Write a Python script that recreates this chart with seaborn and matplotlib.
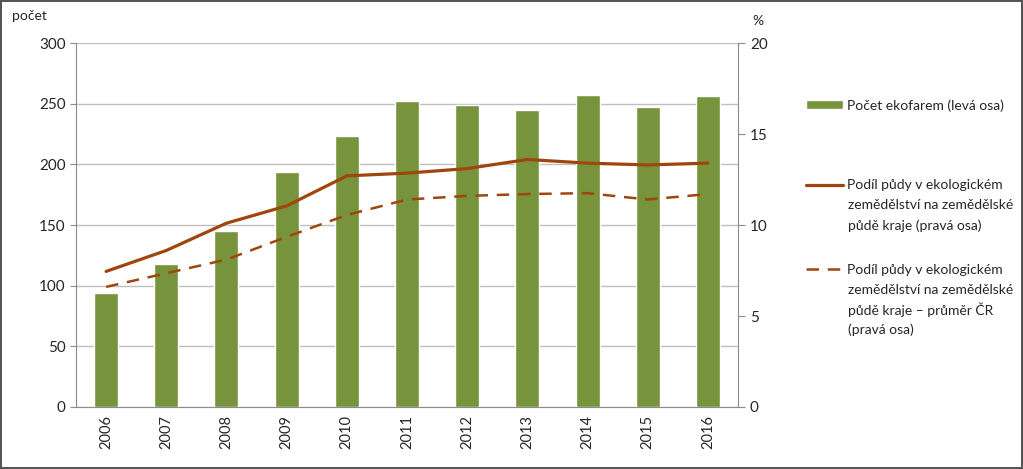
import numpy as np
import pandas as pd
import matplotlib
matplotlib.use("Agg")
import matplotlib.pyplot as plt
import seaborn as sns
from matplotlib.patches import Patch
from matplotlib.lines import Line2D

years = ["2006", "2007", "2008", "2009", "2010", "2011", "2012", "2013", "2014", "2015", "2016"]
farms = [94, 118, 145, 194, 223, 252, 249, 245, 257, 247, 256]
share_region = [7.45, 8.6, 10.1, 11.05, 12.7, 12.85, 13.1, 13.6, 13.4, 13.3, 13.4]
share_cr = [6.6, 7.35, 8.1, 9.35, 10.55, 11.4, 11.6, 11.7, 11.75, 11.4, 11.7]

lbl_bars = "Počet ekofarem (levá osa)"
lbl_region = ["Podíl půdy v ekologickém", "zemědělství na zemědělské", "půdě kraje (pravá osa)"]
lbl_cr = ["Podíl půdy v ekologickém", "zemědělství na zemědělské", "půdě kraje – průměr ČR", "(pravá osa)"]

GREEN = "#77933C"
BROWN = "#A0460C"
GRID = "#BFBFBF"
TXT = "#262626"
DASH = (0, (5, 3.5))

sns.set_style("white")
plt.rcParams["font.family"] = ["Lato", "DejaVu Sans"]

df = pd.DataFrame({"pos": np.arange(len(years)), "year": years, "farms": farms,
                   "region": share_region, "cr": share_cr})

fig = plt.figure(figsize=(10.23, 4.69), dpi=100)
fig.patch.set_edgecolor("#555555")
fig.patch.set_linewidth(1.5)
ax = fig.add_axes([0.0743, 0.1322, 0.6471, 0.7761])

sns.barplot(data=df, x="year", y="farms", color=GREEN, saturation=1, width=0.4, ax=ax)
ax.set_xlim(-0.5, len(years) - 0.5)
ax.set_ylim(0, 300)
ax.set_yticks(np.arange(0, 301, 50))
ax.set_axisbelow(True)
ax.yaxis.grid(True, color=GRID, linewidth=1)
ax.set_xlabel("")
ax.set_ylabel("")
for s in ["top", "right"]:
    ax.spines[s].set_visible(False)
for s in ["left", "bottom"]:
    ax.spines[s].set_color("#8C8C8C")
ax.set_xticks(np.arange(len(years)))
ax.set_xticklabels(years, rotation=90)
ax.set_xticks(np.arange(-0.5, len(years)), minor=True)
ax.tick_params(axis="x", which="major", length=0, labelsize=10.5, colors=TXT, pad=6)
ax.tick_params(axis="x", which="minor", length=5, color="#8C8C8C")
ax.tick_params(axis="y", length=4, color="#8C8C8C", labelsize=11, colors=TXT)

ax2 = ax.twinx()
sns.lineplot(data=df, x="pos", y="region", color=BROWN, linewidth=2.3, ax=ax2)
sns.lineplot(data=df, x="pos", y="cr", color=BROWN, linewidth=1.8, linestyle=DASH, ax=ax2)
ax2.set_ylim(0, 20)
ax2.set_yticks(np.arange(0, 21, 5))
ax2.set_xlim(-0.5, len(years) - 0.5)
ax2.set_xlabel("")
ax2.set_ylabel("")
for s in ["top", "left", "bottom"]:
    ax2.spines[s].set_visible(False)
ax2.spines["right"].set_color("#8C8C8C")
ax2.tick_params(axis="y", length=5, color="#8C8C8C", labelsize=11, colors=TXT)

fig.text(0.012, 0.965, "počet", fontsize=10, color=TXT, va="center")
fig.text(0.735, 0.955, "%", fontsize=10, color=TXT, va="center")

# legend: handles aligned with the first line of each label
entries = [
    (Patch(facecolor=GREEN), [lbl_bars], 0.775),
    (Line2D([], [], color=BROWN, linewidth=2.3), lbl_region, 0.605),
    (Line2D([], [], color=BROWN, linewidth=1.8, linestyle=DASH), lbl_cr, 0.425),
]
for h, lines, y in entries:
    fig.legend(handles=[h], labels=[lines[0]], loc="center left", bbox_to_anchor=(0.788, y),
               frameon=False, fontsize=10, handlelength=2.65, handleheight=0.6,
               handletextpad=0.3, borderpad=0, borderaxespad=0, labelcolor=TXT)
    for i, t in enumerate(lines[1:], start=1):
        fig.text(0.8285, y - i * 0.043, t, fontsize=10, color=TXT, va="center")

fig.savefig("out.png", dpi=100)
